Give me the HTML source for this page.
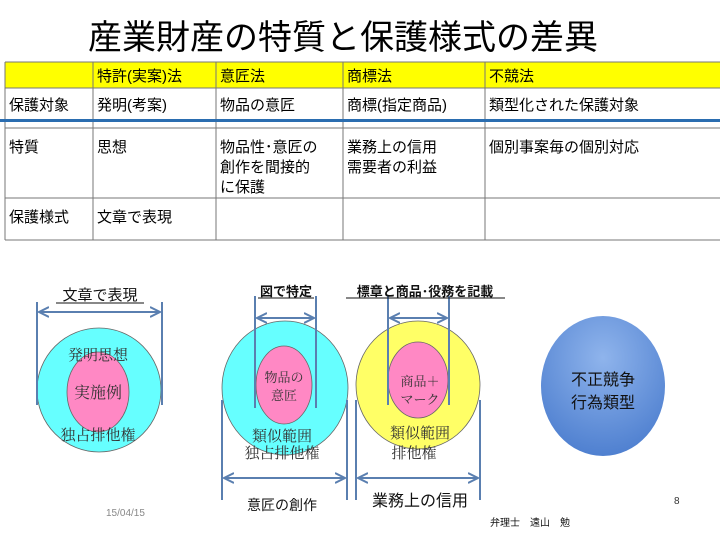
<!DOCTYPE html>
<html><head><meta charset="utf-8"><style>
body{margin:0;background:#fff;}
svg{display:block;font-family:"Liberation Sans","Noto Sans CJK JP",sans-serif;}
.s{font-family:"Liberation Serif","Noto Serif CJK SC",serif;}
</style></head><body>
<svg width="720" height="540" viewBox="0 0 720 540">
<defs>
<radialGradient id="bg" cx="50%" cy="30%" r="70%"><stop offset="0" stop-color="#8fb4ec"/><stop offset="1" stop-color="#4f80d0"/></radialGradient>
<marker id="a" markerWidth="6" markerHeight="6" refX="5" refY="3" orient="auto-start-reverse"><path d="M0,0.5 L5,3 L0,5.5" fill="none" stroke="#5a7fb0" stroke-width="1"/></marker>
</defs>
<text x="343" y="49" font-size="34" text-anchor="middle">産業財産の特質と保護様式の差異</text>
<rect x="5" y="62" width="715" height="26" fill="#ffff00"/>
<g stroke="#777" stroke-width="1" fill="none">
<line x1="5" y1="62" x2="720" y2="62"/>
<line x1="5" y1="88" x2="720" y2="88"/>
<line x1="5" y1="128" x2="720" y2="128"/>
<line x1="5" y1="198" x2="720" y2="198"/>
<line x1="5" y1="240" x2="720" y2="240"/>
<line x1="5" y1="62" x2="5" y2="240"/>
<line x1="93" y1="62" x2="93" y2="240"/>
<line x1="216" y1="62" x2="216" y2="240"/>
<line x1="343" y1="62" x2="343" y2="240"/>
<line x1="485" y1="62" x2="485" y2="240"/>
</g>
<rect x="0" y="119" width="720" height="3" fill="#2a6db0"/>
<g font-size="15">
<text x="97" y="81">特許(実案)法</text><text x="220" y="81">意匠法</text><text x="347" y="81">商標法</text><text x="489" y="81">不競法</text>
<text x="9" y="110">保護対象</text><text x="97" y="110">発明(考案)</text><text x="220" y="110">物品の意匠</text><text x="347" y="110">商標(指定商品)</text><text x="489" y="110">類型化された保護対象</text>
<text x="9" y="152">特質</text><text x="97" y="152">思想</text>
<text x="220" y="152">物品性･意匠の</text><text x="220" y="172">創作を間接的</text><text x="220" y="192">に保護</text>
<text x="347" y="152">業務上の信用</text><text x="347" y="172">需要者の利益</text>
<text x="489" y="152">個別事案毎の個別対応</text>
<text x="9" y="222">保護様式</text><text x="97" y="222">文章で表現</text>
</g>
<g stroke="#666" stroke-width="0.8">
<ellipse cx="99" cy="390" rx="62" ry="62" fill="#66ffff"/>
<ellipse cx="98" cy="392" rx="31" ry="40" fill="#ff88c4"/>
<ellipse cx="285" cy="388" rx="63" ry="67" fill="#66ffff"/>
<ellipse cx="284" cy="385" rx="28" ry="39" fill="#ff88c4"/>
<ellipse cx="418" cy="385" rx="62" ry="64" fill="#ffff66"/>
<ellipse cx="418" cy="380" rx="30" ry="38" fill="#ff88c4"/>
</g>
<ellipse cx="603" cy="386" rx="62" ry="70" fill="url(#bg)"/>
<g class="s" fill="#333" font-size="15" text-anchor="middle">
<text x="98" y="360">発明思想</text><text x="98" y="398" font-size="16">実施例</text><text x="98" y="440">独占排他権</text>
<text x="284" y="382" font-size="13">物品の</text><text x="284" y="400" font-size="13">意匠</text>
<text x="282" y="441">類似範囲</text><text x="282" y="458">独占排他権</text>
<text x="420" y="386" font-size="13">商品＋</text><text x="420" y="404" font-size="13">マーク</text>
<text x="420" y="438">類似範囲</text><text x="414" y="458">排他権</text>
</g>
<g font-size="16" text-anchor="middle" fill="#111"><text x="603" y="385">不正競争</text><text x="603" y="408">行為類型</text></g>
<g stroke="#5a7fb0" stroke-width="2" fill="none">
<line x1="37" y1="302" x2="37" y2="405"/><line x1="162" y1="302" x2="162" y2="405"/>
<line x1="255" y1="296" x2="255" y2="408"/><line x1="316" y1="296" x2="316" y2="408"/>
<line x1="388" y1="296" x2="388" y2="405"/><line x1="449" y1="296" x2="449" y2="405"/>
<line x1="222" y1="400" x2="222" y2="500"/><line x1="347" y1="400" x2="347" y2="500"/>
<line x1="356" y1="400" x2="356" y2="500"/><line x1="480" y1="400" x2="480" y2="500"/>
<line x1="39" y1="312" x2="160" y2="312" marker-start="url(#a)" marker-end="url(#a)"/>
<line x1="257" y1="318" x2="314" y2="318" marker-start="url(#a)" marker-end="url(#a)"/>
<line x1="390" y1="318" x2="447" y2="318" marker-start="url(#a)" marker-end="url(#a)"/>
<line x1="224" y1="478" x2="345" y2="478" marker-start="url(#a)" marker-end="url(#a)"/>
<line x1="358" y1="478" x2="478" y2="478" marker-start="url(#a)" marker-end="url(#a)"/>
</g>
<g font-size="15" text-anchor="middle" fill="#111">
<text x="100" y="300">文章で表現</text><line x1="56" y1="303" x2="144" y2="303" stroke="#111"/>
<text x="286" y="296" font-size="13" font-weight="bold">図で特定</text><line x1="258" y1="298" x2="314" y2="298" stroke="#111"/>
<text x="425" y="296" font-size="13" font-weight="bold">標章と商品･役務を記載</text><line x1="346" y1="298" x2="505" y2="298" stroke="#111"/>
<text x="282" y="510" font-size="14">意匠の創作</text>
<text x="420" y="506" font-size="16">業務上の信用</text>
</g>
<text x="106" y="516" font-size="10" fill="#888">15/04/15</text>
<text x="674" y="504" font-size="10" fill="#333">8</text>
<text x="490" y="526" font-size="10" fill="#111">弁理士　遠山　勉</text>
</svg>
</body></html>
